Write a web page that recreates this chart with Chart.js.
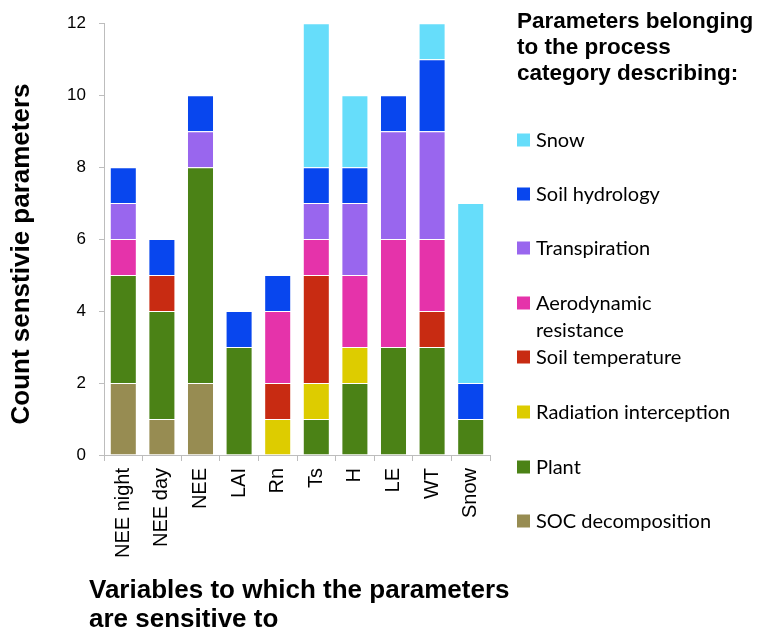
<!DOCTYPE html>
<html><head><meta charset="utf-8">
<script src="https://cdn.jsdelivr.net/npm/chart.js@4/dist/chart.umd.min.js"></script>
<style>html,body{margin:0;padding:0;background:#fff}</style>
</head><body>
<canvas id="c" width="759" height="641"></canvas>
<script>
// ---- data ----
const categories = ["NEE night","NEE day","NEE","LAI","Rn","Ts","H","LE","WT","Snow"];
const seriesNames = ["SOC decomposition","Plant","Radiation interception","Soil temperature","Aerodynamic resistance","Transpiration","Soil hydrology","Snow"];
const socDecomposition     = [2,1,2,0,0,0,0,0,0,0];
const plant                = [3,3,6,3,0,1,2,3,3,1];
const radiationInterception= [0,0,0,0,1,1,1,0,0,0];
const soilTemperature      = [0,1,0,0,1,3,0,0,1,0];
const aerodynamicResistance= [1,0,0,0,2,1,2,3,2,0];
const transpiration        = [1,0,1,0,0,1,2,3,3,0];
const soilHydrology        = [1,1,1,1,1,1,1,1,2,1];
const snow                 = [0,0,0,0,0,4,2,0,1,5];
const yTicks = [0,2,4,6,8,10,12];
const yTitle = "Count senstivie parameters";
const xTitleLines = ["Variables to which the parameters","are sensitive to"];
const legendTitleLines = ["Parameters belonging","to the process","category describing:"];

const seriesValues = [socDecomposition,plant,radiationInterception,soilTemperature,aerodynamicResistance,transpiration,soilHydrology,snow];
const colors = ["#978C52","#4B8216","#DDCC00","#C82B12","#E533AA","#9966EE","#0846EE","#66DDFA"];

const AX = "#bdbdbd";
const titlesPlugin = {
  id:"titles",
  afterDraw(chart){
    const ctx = chart.ctx;
    ctx.save();
    ctx.fillStyle = "#000";
    // y title
    ctx.font = "bold 26px 'Liberation Sans', Arial, sans-serif";
    ctx.translate(22, 254);
    ctx.rotate(-Math.PI/2);
    ctx.textAlign = "center"; ctx.textBaseline = "middle";
    ctx.fillText(yTitle, 0, 0);
    ctx.restore();
    ctx.save();
    ctx.fillStyle = "#000";
    ctx.font = "bold 26px 'Liberation Sans', Arial, sans-serif";
    ctx.textAlign = "left"; ctx.textBaseline = "alphabetic";
    xTitleLines.forEach((t,i)=>ctx.fillText(t, 89, 598 + i*29));
    // legend title
    ctx.font = "bold 22.5px 'Liberation Sans', Arial, sans-serif";
    legendTitleLines.forEach((t,i)=>ctx.fillText(t, 517, 28 + i*26));
    // legend items (top to bottom: reverse stacking order)
    ctx.font = "20px Lato, 'Open Sans', sans-serif";
    ctx.textBaseline = "middle";
    const items = [
      {i:7, y:[140]}, {i:6, y:[194]}, {i:5, y:[248]},
      {i:4, y:[303,330], lines:["Aerodynamic","resistance"]},
      {i:3, y:[357]}, {i:2, y:[412]}, {i:1, y:[467]}, {i:0, y:[521]}
    ];
    items.forEach(it=>{
      ctx.fillStyle = colors[it.i];
      ctx.fillRect(517, it.y[0]-6.5, 13, 13);
      ctx.fillStyle = "#000";
      const lines = it.lines || [seriesNames[it.i]];
      lines.forEach((t,k)=>ctx.fillText(t, 536, it.y[k]+1));
    });
    ctx.restore();
  }
};

new Chart(document.getElementById("c"), {
  type:"bar",
  data:{
    labels: categories,
    datasets: seriesNames.map((n,i)=>({
      label:n, data:seriesValues[i], backgroundColor:colors[i],
      borderColor:"rgba(255,255,255,0.35)", borderWidth:1,
      categoryPercentage:1, barPercentage:0.7
    }))
  },
  options:{
    responsive:false, animation:false, devicePixelRatio:1,
    layout:{padding:{left:0,right:269,top:22,bottom:0}},
    plugins:{legend:{display:false}, tooltip:{enabled:false}, title:{display:false}},
    scales:{
      x:{
        stacked:true,
        grid:{display:true, drawOnChartArea:false, drawTicks:true, tickLength:6, color:AX, offset:true},
        border:{display:true, color:AX},
        ticks:{minRotation:90, maxRotation:90, autoSkip:false, padding:7, color:"#000",
               font:{family:"'Liberation Sans', Arial, sans-serif", size:20}},
        afterFit(s){ s.height = 186; }
      },
      y:{
        stacked:true, min:0, max:12,
        afterBuildTicks(s){ s.ticks = yTicks.map(v=>({value:v})); },
        grid:{display:true, drawOnChartArea:false, drawTicks:true, tickLength:5, color:AX},
        border:{display:true, color:AX},
        ticks:{padding:13, color:"#000", font:{family:"'Liberation Sans', Arial, sans-serif", size:17}},
        afterFit(s){ s.width = 104; }
      }
    }
  },
  plugins:[titlesPlugin]
});
</script>
</body></html>
